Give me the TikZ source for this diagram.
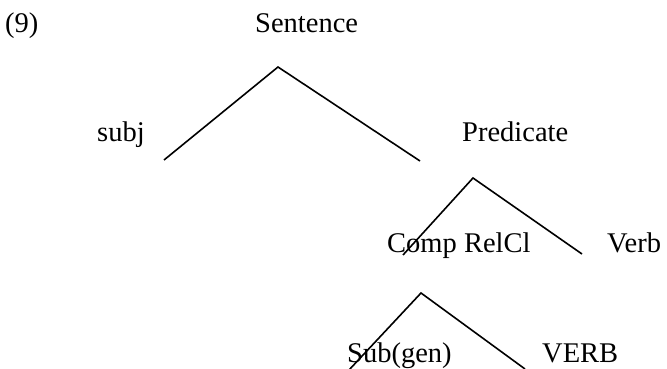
\documentclass[tikz,border=0pt]{standalone}
\usepackage{fontspec}
\setmainfont{Liberation Serif}
\begin{document}
\begin{tikzpicture}[x=1pt,y=-1pt,
  lbl/.style={anchor=base west,inner sep=0pt,font=\fontsize{28.5}{34}\selectfont},
  branch/.style={line width=1.6pt}]
\useasboundingbox (0,0) rectangle (667,369);
\node[lbl] (num) at (5,33) {(9)};
\node[lbl] (s) at (255,33) {Sentence};
\node[lbl] (subj) at (97,141) {subj};
\node[lbl] (pred) at (462,141) {Predicate};
\node[lbl] (comp) at (387,252) {Comp RelCl};
\node[lbl] (verb) at (607,252) {Verb};
\node[lbl] (sub) at (347,362) {Sub(gen)};
\node[lbl] (VERB) at (542,362) {VERB};
\coordinate (a1) at (278,67);
\coordinate (a1l) at (164,160);
\coordinate (a1r) at (420,161);
\coordinate (a2) at (473,178);
\coordinate (a2l) at (403,255);
\coordinate (a2r) at (582,254);
\coordinate (a3) at (421,293);
\coordinate (a3l) at (349,370);
\coordinate (a3r) at (525,369);
\draw[branch] (a1l) -- (a1) -- (a1r);
\draw[branch] (a2l) -- (a2) -- (a2r);
\draw[branch] (a3l) -- (a3) -- (a3r);
\end{tikzpicture}
\end{document}
